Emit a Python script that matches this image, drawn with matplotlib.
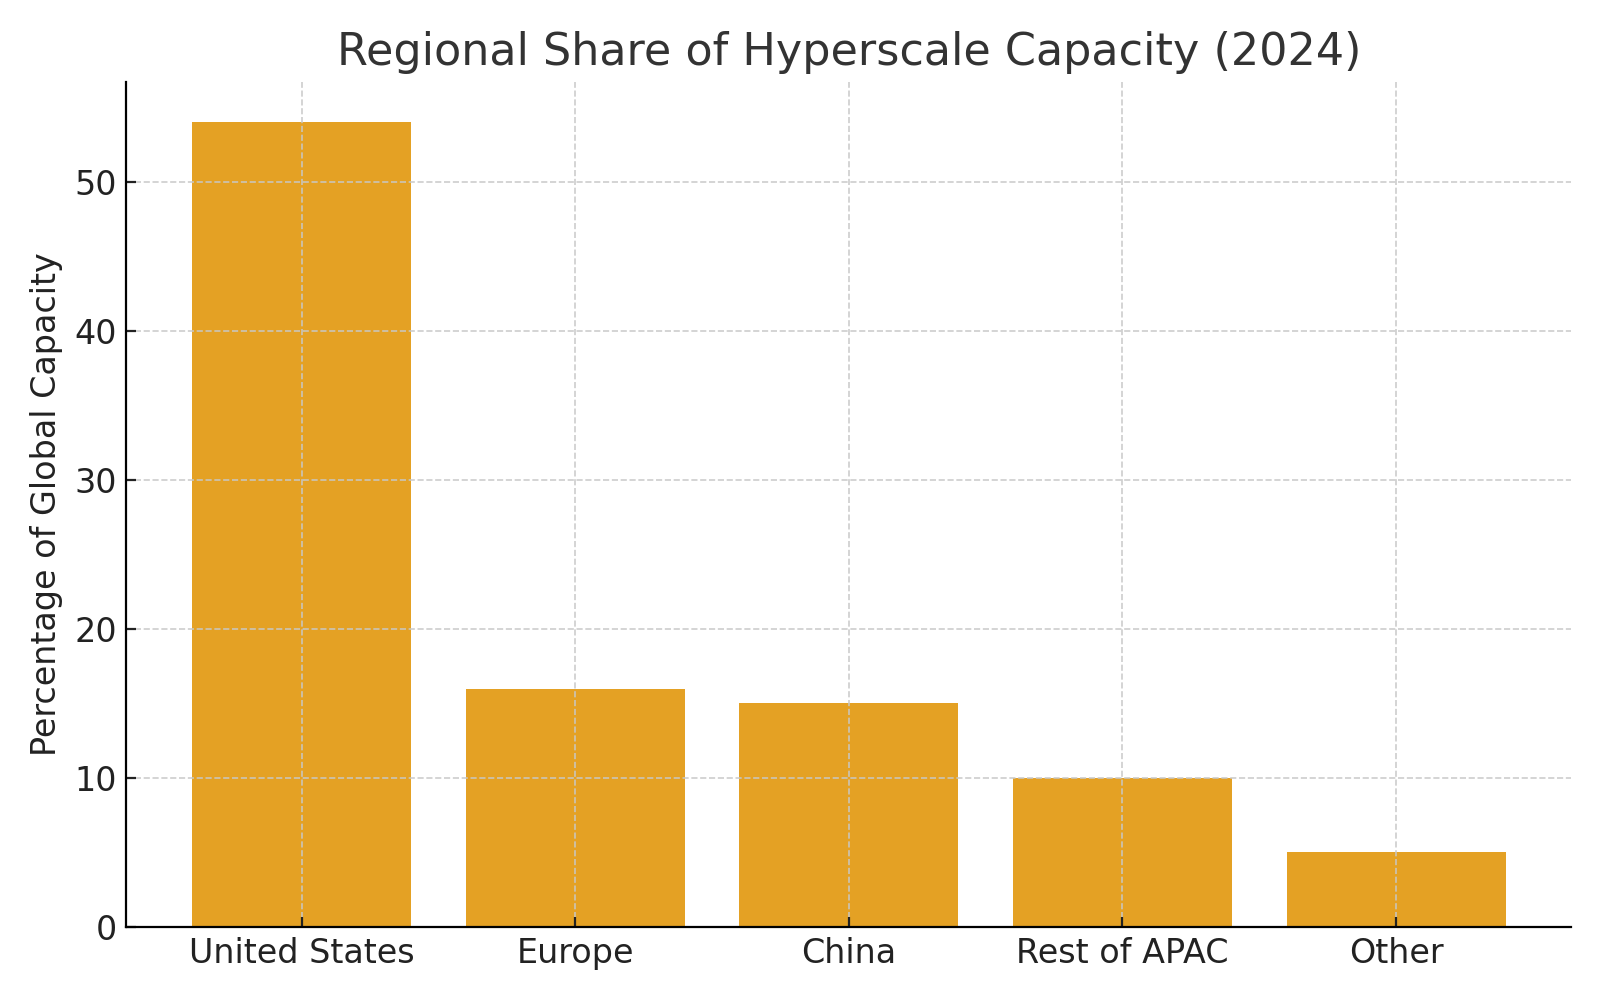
import matplotlib.pyplot as plt

regions = ['United States', 'Europe', 'China', 'Rest of APAC', 'Other']
share = [54, 16, 15, 10, 5]

fig, ax = plt.subplots(figsize=(8, 5), dpi=200)
fig.subplots_adjust(left=0.079, right=0.982, top=0.918, bottom=0.073)

ax.bar(regions, share, color='#E4A124', width=0.8)
ax.set_axisbelow(False)
ax.grid(True, linestyle='--', linewidth=0.6, color='#c8c8c8', alpha=0.9)

ax.set_title('Regional Share of Hyperscale Capacity (2024)', fontsize=16, color='#333333')
ax.set_ylabel('Percentage of Global Capacity', fontsize=12, color='#222222')
ax.tick_params(labelsize=12, colors='#222222', direction='in')

ax.spines['top'].set_visible(False)
ax.spines['right'].set_visible(False)
for s in ax.spines.values():
    s.set_zorder(5)

plt.savefig('out.png')
